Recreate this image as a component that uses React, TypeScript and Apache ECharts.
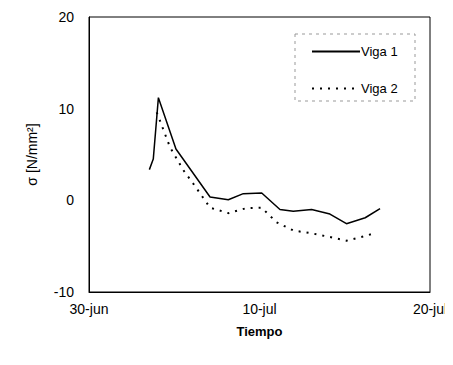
import React, { useEffect, useRef } from "react";
import * as echarts from "echarts";

// days since 30-jun
const viga1Days = [3.54, 3.77, 4.07, 5.1, 7.1, 8.17, 9.05, 10.13, 11.2, 11.98, 13.06, 14.13, 15.1, 16.2, 17.07];
const viga1Vals = [3.35, 4.5, 11.2, 5.6, 0.36, 0.07, 0.73, 0.8, -1.0, -1.2, -1.0, -1.5, -2.55, -1.9, -0.9];
const viga2Days = [3.97, 4.16, 4.75, 5.53, 6.2, 7.1, 8.17, 9.25, 10.13, 11.0, 12.0, 13.06, 14.13, 15.1, 16.2, 16.7];
const viga2Vals = [9.6, 8.7, 5.8, 3.3, 1.6, -0.8, -1.4, -0.84, -0.8, -2.4, -3.3, -3.6, -4.0, -4.4, -3.9, -3.6];
const xTickDays = [0, 10, 20];
const xTickLabels = ["30-jun", "10-jul", "20-jul"];

export default function App() {
  const ref = useRef<HTMLDivElement>(null);
  useEffect(() => {
    if (!ref.current) return;
    const chart = echarts.init(ref.current, null, { renderer: "svg" });
    const font = "'Liberation Sans', Arial, sans-serif";
    chart.setOption({
      animation: false,
      backgroundColor: "#fff",
      grid: { left: 89, top: 17, right: 23, bottom: 73, show: true, borderColor: "#000", borderWidth: 1 },
      legend: {
        orient: "vertical",
        left: 306,
        top: 40,
        itemWidth: 48,
        itemHeight: 10,
        itemGap: 24,
        itemStyle: { opacity: 0 },
        textStyle: { fontFamily: font, fontSize: 13, color: "#000", padding: [0, 0, 0, -4] },
        data: ["Viga 1", "Viga 2"],
      },
      graphic: [
        {
          type: "rect",
          shape: { x: 295, y: 34, width: 120, height: 67 },
          style: { fill: "none", stroke: "#999", lineWidth: 1, lineDash: [3, 4] },
          silent: true,
        },
      ],
      xAxis: {
        type: "value",
        min: 0,
        max: 20,
        interval: 10,
        name: "Tiempo",
        nameLocation: "middle",
        nameGap: 33,
        nameTextStyle: { fontFamily: font, fontSize: 13, fontWeight: "bold", color: "#000" },
        axisLine: { onZero: false, lineStyle: { color: "#000" } },
        axisTick: { show: false },
        splitLine: { show: false },
        axisLabel: {
          fontFamily: font,
          fontSize: 14,
          color: "#000",
          margin: 10,
          formatter: (v: number) => {
            const i = xTickDays.indexOf(v);
            return i >= 0 ? xTickLabels[i] : "";
          },
        },
      },
      yAxis: {
        type: "value",
        min: -10,
        max: 20,
        interval: 10,
        name: "σ [N/mm²]",
        nameLocation: "middle",
        nameGap: 50,
        nameRotate: 90,
        nameTextStyle: { fontFamily: font, fontSize: 14, color: "#000" },
        axisLine: { show: true, onZero: false, lineStyle: { color: "#000" } },
        axisTick: { show: false },
        splitLine: { show: false },
        axisLabel: { fontFamily: font, fontSize: 14, color: "#000", margin: 15 },
      },
      series: [
        {
          name: "Viga 1",
          type: "line",
          showSymbol: false,
          symbol: "none",
          data: viga1Days.map((d, i) => [d, viga1Vals[i]]),
          lineStyle: { color: "#000", width: 1.5, type: "solid" },
          itemStyle: { color: "#000" },
        },
        {
          name: "Viga 2",
          type: "line",
          showSymbol: false,
          symbol: "none",
          data: viga2Days.map((d, i) => [d, viga2Vals[i]]),
          lineStyle: { color: "#000", width: 2, type: [2, 6] },
          itemStyle: { color: "#000" },
        },
      ],
    });
    return () => chart.dispose();
  }, []);
  return <div ref={ref} style={{ width: 453, height: 365, margin: -8 }} />;
}
